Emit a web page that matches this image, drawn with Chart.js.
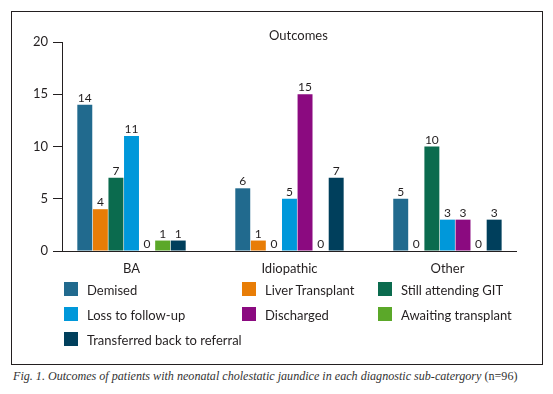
<!DOCTYPE html>
<html>
<head>
<meta charset="utf-8">
<script src="https://cdn.jsdelivr.net/npm/chart.js@4/dist/chart.umd.min.js"></script>
<style>
  html, body { margin: 0; padding: 0; background: #fff; }
  body { width: 553px; height: 394px; position: relative; overflow: hidden; font-family: Lato, sans-serif; color: #231f20; }
  #frame { position: absolute; left: 11px; top: 11px; width: 532px; height: 354px; box-sizing: border-box; border: 1px solid #231f20; }
  #outcomesChart { position: absolute; left: 0; top: 0; }
  #chartTitle { position: absolute; left: 269px; top: 29px; font-size: 13px; line-height: 13px; white-space: nowrap; }
  #legend { position: absolute; left: 64px; top: 282px; }
  .legend-item { position: absolute; white-space: nowrap; }
  .legend-box { position: absolute; left: 0; top: 0; width: 14px; height: 14px; }
  .legend-text { position: absolute; left: 23px; top: 1px; font-size: 13px; line-height: 14px; }
  #caption { position: absolute; left: 13px; top: 369px; font-family: "Liberation Serif", serif; font-style: italic; font-size: 12.1px; line-height: 14px; color: #333; white-space: nowrap; }
  #caption span { font-style: normal; }
</style>
</head>
<body>
<div id="frame"></div>
<canvas id="outcomesChart" width="553" height="290"></canvas>
<div id="chartTitle">Outcomes</div>
<div id="legend"></div>
<div id="caption">Fig. 1. Outcomes of patients with neonatal cholestatic jaundice in each diagnostic sub-catergory <span>(n=96)</span></div>
<script>
const categories = ["BA", "Idiopathic", "Other"];
const outcomeLabels = [
  "Demised",
  "Liver Transplant",
  "Still attending GIT",
  "Loss to follow-up",
  "Discharged",
  "Awaiting transplant",
  "Transferred back to referral",
];
const demised = [14, 6, 5];
const liverTransplant = [4, 1, 0];
const stillAttending = [7, 0, 10];
const lossToFollowUp = [11, 5, 3];
const discharged = [0, 15, 3];
const awaitingTransplant = [1, 0, 0];
const transferredBack = [1, 7, 3];
const yTicks = [0, 5, 10, 15, 20];
const outcomeColors = ["#216a8e", "#e87d06", "#0b6b4e", "#0098da", "#8b0a80", "#5ba829", "#003f5c"];

(() => {
  const ctx = document.getElementById("outcomesChart");
  const legendEl = document.getElementById("legend");
  const textColor = "#231f20";
  const series = [demised, liverTransplant, stillAttending, lossToFollowUp, discharged, awaitingTransplant, transferredBack];

  // numbers above every bar, zeros included
  const valueLabels = {
    id: "valueLabels",
    afterDatasetsDraw(chart) {
      const c = chart.ctx;
      c.save();
      c.font = "12px Lato";
      c.fillStyle = textColor;
      c.textAlign = "center";
      c.textBaseline = "alphabetic";
      chart.data.datasets.forEach((ds, di) => {
        const meta = chart.getDatasetMeta(di);
        meta.data.forEach((bar, i) => {
          c.fillText(String(ds.data[i].y), bar.x, bar.y - 3);
        });
      });
      c.restore();
    },
  };

  const chart = new Chart(ctx, {
    type: "bar",
    data: {
      datasets: series.map((values, si) => ({
        label: outcomeLabels[si],
        data: values.map((v, i) => ({ x: i, y: v })),
        backgroundColor: outcomeColors[si],
        borderWidth: 0,
        categoryPercentage: 0.69,
        barPercentage: 0.96,
      })),
    },
    options: {
      responsive: false,
      animation: false,
      layout: { padding: { left: 22, right: 37, top: 42, bottom: 9 } },
      plugins: {
        legend: { display: false },
        title: { display: false },
        tooltip: { enabled: false },
      },
      scales: {
        x: {
          type: "linear",
          offset: false,
          min: -0.44,
          max: 2.434,
          afterBuildTicks: (scale) => {
            scale.ticks = categories.map((c, i) => ({ value: i }));
          },
          afterFit: (scale) => {
            scale.height = 30;
          },
          grid: { display: false, offset: false },
          border: { display: true, color: textColor, width: 1 },
          ticks: {
            autoSkip: false,
            maxRotation: 0,
            padding: 2,
            color: textColor,
            font: { family: "Lato", size: 13 },
            callback: (value) => categories[value] ?? "",
          },
        },
        y: {
          min: 0,
          max: 20,
          afterBuildTicks: (scale) => {
            scale.ticks = yTicks.map((v) => ({ value: v }));
          },
          afterFit: (scale) => {
            scale.width = 40;
          },
          grid: { drawOnChartArea: false, drawTicks: true, tickLength: 9, color: textColor },
          border: { display: true, color: textColor, width: 1 },
          ticks: {
            padding: 5,
            color: textColor,
            font: { family: "Lato", size: 13 },
          },
        },
      },
    },
    plugins: [valueLabels],
  });

  // legend laid out in three fixed columns like the original figure
  const colLefts = [0, 178, 314];
  chart.data.datasets.forEach((ds, i) => {
    const item = document.createElement("div");
    item.className = "legend-item";
    item.style.left = `${colLefts[i % 3]}px`;
    item.style.top = `${Math.floor(i / 3) * 25}px`;
    const box = document.createElement("span");
    box.className = "legend-box";
    box.style.background = ds.backgroundColor;
    const text = document.createElement("span");
    text.className = "legend-text";
    text.textContent = ds.label;
    item.appendChild(box);
    item.appendChild(text);
    legendEl.appendChild(item);
  });
})();
</script>
</body>
</html>
